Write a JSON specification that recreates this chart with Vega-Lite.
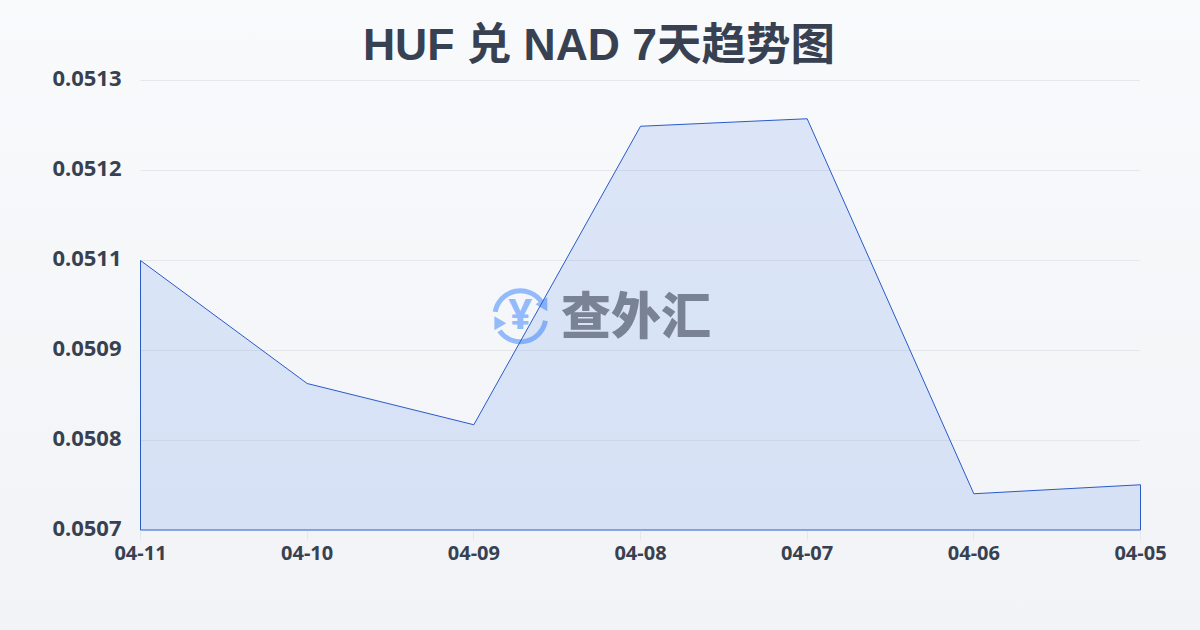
{
"$schema":"https://vega.github.io/schema/vega-lite/v6.json",
"width":1200,"height":630,
"autosize":{"type":"none"},
"padding":0,
"view":{"stroke":null,"fill":{"gradient":"linear","x1":0,"y1":0,"x2":0,"y2":1,"stops":[{"offset":0,"color":"#f8fafc"},{"offset":1,"color":"#f1f3f6"}]}},
"config":{"font":"Noto Sans"},
"title":{"text":"HUF 兑 NAD 7天趋势图","font":"Liberation Sans, Noto Sans CJK SC","fontSize":44.5,"fontWeight":"bold","color":"#374151","anchor":"middle","frame":"group","dx":-1,"offset":-69},
"datasets":{
"rates":[
{"date":"04-11","rate":0.05106},
{"date":"04-10","rate":0.050896},
{"date":"04-09","rate":0.050841},
{"date":"04-08","rate":0.051239},
{"date":"04-07","rate":0.051249},
{"date":"04-06","rate":0.050749},
{"date":"04-05","rate":0.050761}],
"grid":[
{"start":"04-11","end":"04-05","rate":0.05082},
{"start":"04-11","end":"04-05","rate":0.05094},
{"start":"04-11","end":"04-05","rate":0.05106},
{"start":"04-11","end":"04-05","rate":0.05118},
{"start":"04-11","end":"04-05","rate":0.0513}],
"brand":[{"date":"04-08","rate":0.050985,"name":"查外汇"}],
"icon":[{"date":"04-09","rate":0.050985,"name":"¥"}]
},
"encoding":{
"x":{"field":"date","type":"ordinal","sort":null,"scale":{"type":"point","padding":0,"range":[140,1140],"domain":["04-11","04-10","04-09","04-08","04-07","04-06","04-05"]},
"axis":{"title":null,"offset":-100,"labelAngle":0,"labelFont":"Noto Sans","labelFontSize":20,"labelFontWeight":"bold","labelColor":"#374151","labelPadding":3,"tickColor":"#e5e7eb","tickSize":10,"domain":false,"grid":false,"labelOverlap":false}},
"y":{"field":"rate","type":"quantitative","scale":{"domain":[0.0507,0.0513],"range":[530,80],"nice":false,"zero":false},
"axis":{"title":null,"offset":-140,"values":[0.0507,0.05082,0.05094,0.05106,0.05118,0.0513],"format":".4f","labelFont":"Noto Sans","labelFontSize":22,"labelFontWeight":"bold","labelColor":"#374151","labelPadding":19,"labelOffset":-2,"ticks":false,"domain":false,"grid":false}}
},
"layer":[
{"data":{"name":"grid"},"mark":{"type":"rule","color":"#e5e7eb","strokeWidth":1,"xOffset":0.5,"yOffset":0.5},"encoding":{"x":{"field":"start","type":"ordinal"},"x2":{"field":"end"}}},
{"data":{"name":"icon"},"mark":{"type":"arc","radius":28,"radius2":23,"theta":-1.4,"theta2":1.0,"color":"#93bbfb","xOffset":47}},
{"data":{"name":"icon"},"mark":{"type":"arc","radius":28,"radius2":23,"theta":1.75,"theta2":4.1,"color":"#93bbfb","xOffset":47}},
{"data":{"name":"icon"},"mark":{"type":"point","shape":"triangle","filled":true,"opacity":1,"color":"#93bbfb","size":190,"angle":-90,"xOffset":70,"yOffset":-12}},
{"data":{"name":"icon"},"mark":{"type":"point","shape":"triangle","filled":true,"opacity":1,"color":"#93bbfb","size":190,"angle":90,"xOffset":25,"yOffset":7}},
{"data":{"name":"icon"},"mark":{"type":"text","font":"Noto Sans","fontWeight":"bold","fontSize":42,"color":"#93bbfb","align":"center","baseline":"middle","xOffset":47},"encoding":{"text":{"field":"name"}}},
{"data":{"name":"rates"},"mark":{"type":"area","fillOpacity":0.13,"fill":"#2563eb","stroke":"#2a5bc9","strokeWidth":1,"interpolate":"linear","xOffset":0.5,"yOffset":0.5},"encoding":{"y2":{"datum":0.0507}}},
{"data":{"name":"brand"},"mark":{"type":"text","font":"Noto Sans CJK SC","fontWeight":900,"fontSize":50,"color":"#7a8396","align":"center","baseline":"middle","xOffset":-4,"yOffset":3},"encoding":{"text":{"field":"name"}}}
]
}
